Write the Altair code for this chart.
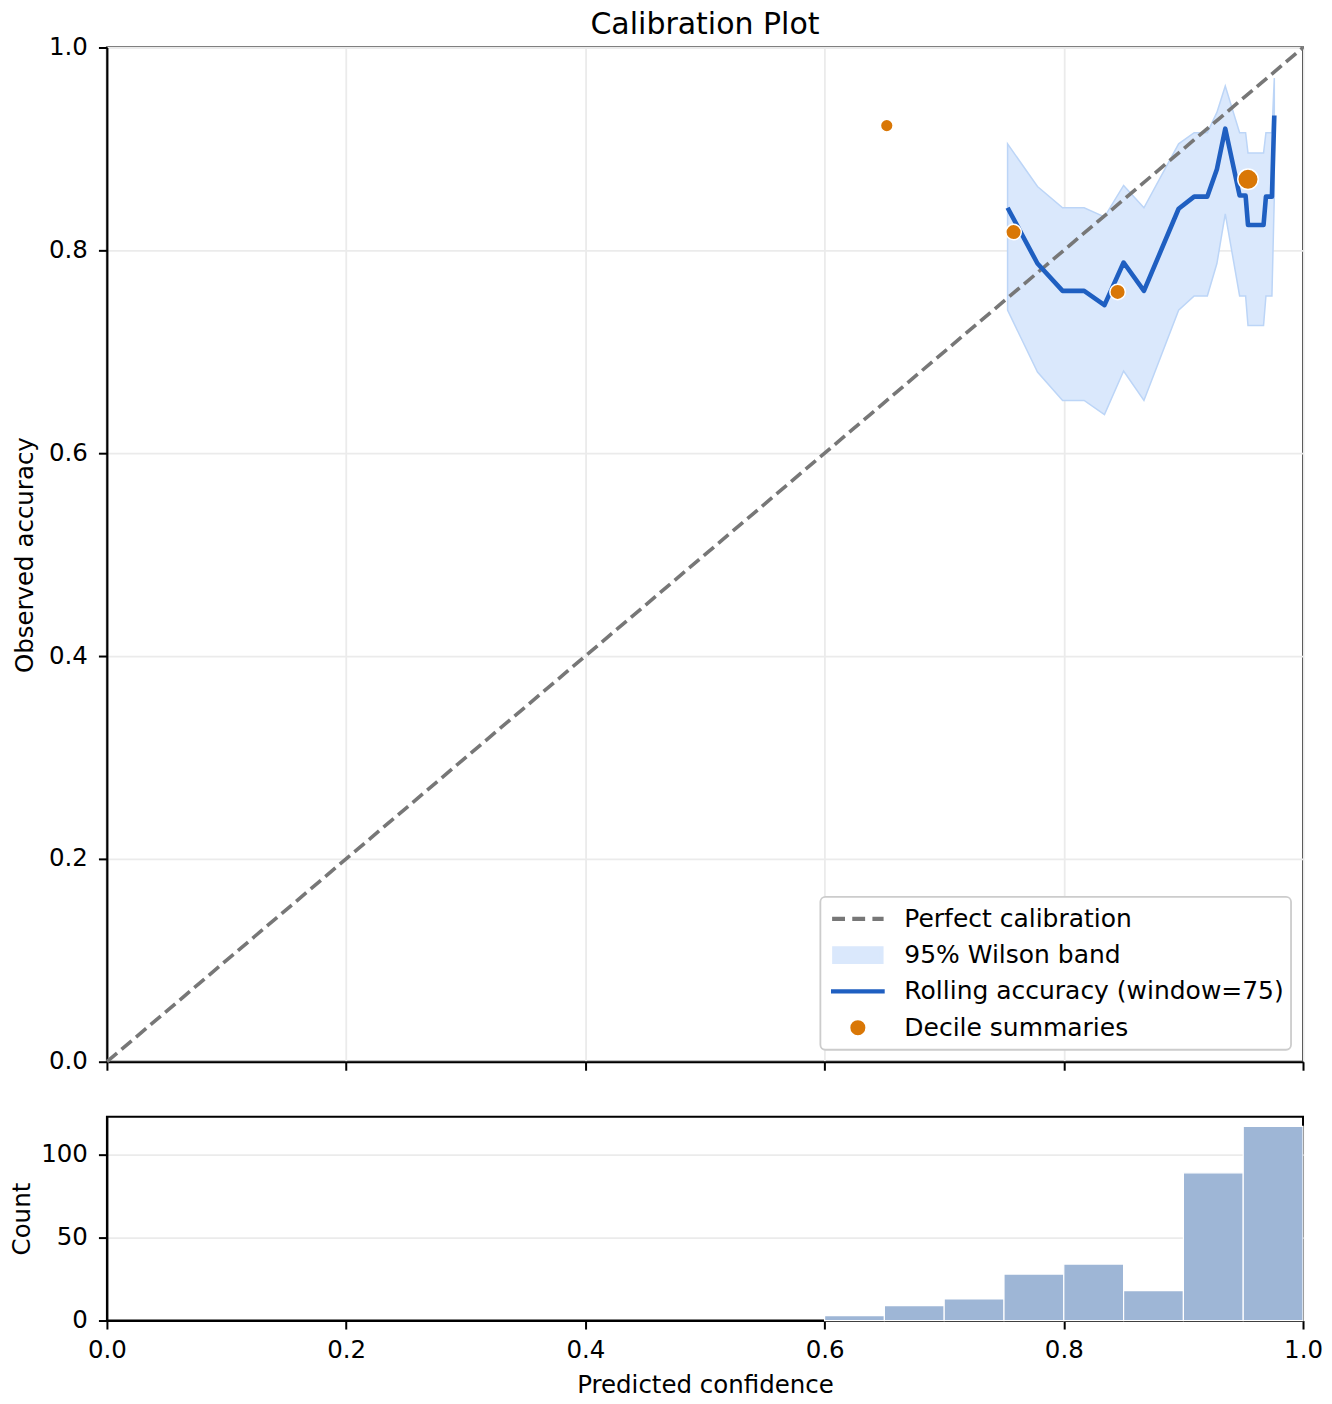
import altair as alt
import pandas as pd

# ---------------- data ----------------
roll_conf = [0.753, 0.778, 0.799, 0.817, 0.834, 0.850, 0.867, 0.896, 0.909, 0.920,
             0.928, 0.935, 0.947, 0.952, 0.954, 0.967, 0.969, 0.974, 0.976]
roll_acc = [0.842, 0.787, 0.760, 0.760, 0.746, 0.788, 0.760, 0.841, 0.853, 0.853,
            0.880, 0.920, 0.854, 0.854, 0.825, 0.825, 0.853, 0.853, 0.933]
band_hi = [0.905, 0.863, 0.842, 0.842, 0.833, 0.864, 0.842, 0.905, 0.916, 0.916,
           0.936, 0.962, 0.916, 0.916, 0.896, 0.896, 0.916, 0.916, 0.970]
band_lo = [0.741, 0.680, 0.652, 0.652, 0.638, 0.681, 0.652, 0.741, 0.755, 0.755,
           0.787, 0.836, 0.755, 0.755, 0.726, 0.726, 0.755, 0.755, 0.853]

dec_conf = [0.652, 0.758, 0.845, 0.954]
dec_acc = [0.923, 0.818, 0.759, 0.870]
dec_n = [5, 40, 40, 120]

bin_lo = [0.60, 0.65, 0.70, 0.75, 0.80, 0.85, 0.90, 0.95]
bin_hi = [0.65, 0.70, 0.75, 0.80, 0.85, 0.90, 0.95, 1.00]
bin_count = [3, 9, 13, 28, 34, 18, 89, 117]

diag_pts = [0.0, 1.0]
tick_vals = [0.0, 0.2, 0.4, 0.6, 0.8, 1.0]
count_ticks = [0, 50, 100]

series_names = ["Perfect calibration", "95% Wilson band",
                "Rolling accuracy (window=75)", "Decile summaries"]

# ---------------- styles ----------------
FONT = "DejaVu Sans"
GRAY = "#777777"
BAND_FILL = "#dae8fc"
BAND_EDGE = "#bcd5f7"
BLUE = "#1f5fc1"
ORANGE = "#d97706"
HIST = "#9eb6d6"

W = 1197
H_MAIN = 1015
H_HIST = 204

df_roll = pd.DataFrame({"conf": roll_conf, "acc": roll_acc, "lo": band_lo, "hi": band_hi})
df_dec = pd.DataFrame({"conf": dec_conf, "acc": dec_acc, "n": dec_n})
df_hist = pd.DataFrame({"lo": bin_lo, "hi": bin_hi, "count": bin_count})
df_diag = pd.DataFrame({"conf": diag_pts, "acc": diag_pts})
df_leg = pd.DataFrame({"series": series_names, "conf": [5.0] * 4, "acc": [5.0] * 4})

xscale = alt.Scale(domain=[0, 1], nice=False, zero=False)
yscale = alt.Scale(domain=[0, 1], nice=False, zero=False)

x_main = alt.X("conf:Q", scale=xscale,
               axis=alt.Axis(values=tick_vals, labels=False, title=None, grid=True))
y_main = alt.Y("acc:Q", scale=yscale,
               axis=alt.Axis(values=tick_vals, format=".1f", title="Observed accuracy",
                             grid=True, titlePadding=11, labelFlush=False))

band = alt.Chart(df_roll).mark_area(
    fill=BAND_FILL, stroke=BAND_EDGE, strokeWidth=1.5, opacity=1
).encode(x=x_main, y=alt.Y("lo:Q", scale=yscale), y2="hi:Q")

diag = alt.Chart(df_diag).mark_line(
    color=GRAY, strokeWidth=3.6, strokeDash=[13.3, 5.8]
).encode(x=x_main, y=y_main)

line = alt.Chart(df_roll).mark_line(
    color=BLUE, strokeWidth=4.6, strokeJoin="round"
).encode(x=x_main, y=y_main)

points = alt.Chart(df_dec).mark_circle(
    color=ORANGE, opacity=1, stroke="white", strokeWidth=1.5
).encode(
    x=x_main, y=y_main,
    size=alt.Size("n:Q", scale=alt.Scale(domain=[0, 120], range=[150, 420]), legend=None),
)

# legend symbols (unit box -1..1 = 56 px): dashed line, band rectangle, solid line, dot
paths = [
    "M-0.92,0H-0.46M-0.2,0H0.26M0.52,0H0.92",
    "M-0.84,-0.24H0.84V0.24H-0.84Z",
    "M-0.96,0H0.96",
    "M-0.19,0A0.19,0.19,0,1,0,0.19,0A0.19,0.19,0,1,0,-0.19,0Z",
]
leg = alt.Legend(
    title=None, orient="bottom-right", offset=12,
    labelFontSize=25, labelFont=FONT, labelColor="black", labelLimit=0,
    symbolSize=3136, clipHeight=30, rowPadding=6.3, padding=7,
    fillColor="white", strokeColor="#cccccc", cornerRadius=5,
    labelOffset=16, symbolOpacity=1, symbolStrokeWidth=4.4,
)
legend_layer = alt.Chart(df_leg).mark_point(clip=True, filled=True, strokeWidth=4.4).encode(
    x=x_main, y=y_main,
    fill=alt.Fill("series:N", scale=alt.Scale(domain=series_names,
                  range=[GRAY, BAND_FILL, BLUE, ORANGE]), legend=leg),
    stroke=alt.Stroke("series:N", scale=alt.Scale(domain=series_names,
                      range=[GRAY, BAND_FILL, BLUE, ORANGE]), legend=leg),
    shape=alt.Shape("series:N", scale=alt.Scale(domain=series_names, range=paths),
                    legend=leg),
)

main = alt.layer(band, diag, line, points, legend_layer).properties(
    width=W, height=H_MAIN,
    title=alt.TitleParams("Calibration Plot", fontSize=30, font=FONT,
                          fontWeight="normal", color="black", anchor="middle",
                          frame="group", offset=-5),
)

hist = alt.Chart(df_hist).mark_bar(
    color=HIST, stroke="white", strokeWidth=1.2, opacity=1
).encode(
    x=alt.X("lo:Q", scale=xscale,
            axis=alt.Axis(values=tick_vals, format=".1f", title="Predicted confidence",
                          grid=False, titlePadding=12, labelFlush=False, labelPadding=9)),
    x2="hi:Q",
    y=alt.Y("count:Q", scale=alt.Scale(domain=[0, 122.85], nice=False, zero=True),
            axis=alt.Axis(values=count_ticks, title="Count", grid=True, titlePadding=6,
                          labelFlush=False)),
    y2=alt.datum(0),
).properties(width=W, height=H_HIST)

chart = alt.vconcat(main, hist, spacing=41).resolve_scale(
    fill="independent", stroke="independent", shape="independent"
).resolve_legend(
    fill="independent", stroke="independent", shape="independent"
).properties(
    padding={"left": 0, "top": 0, "right": 0, "bottom": 0}
).configure(font=FONT).configure_view(
    stroke="black", strokeWidth=2
).configure_axis(
    domainColor="black", domainWidth=2, tickColor="black", tickWidth=2, tickSize=8.5,
    labelFont=FONT, labelFontSize=24.5, labelColor="black", labelPadding=11,
    titleFont=FONT, titleFontSize=24.5, titleFontWeight="normal", titleColor="black",
    gridColor="#ebebeb", gridWidth=1.8,
).configure_legend(strokeWidth=1.8)

chart.save("out.html", embed_options={"renderer": "svg", "actions": False})
